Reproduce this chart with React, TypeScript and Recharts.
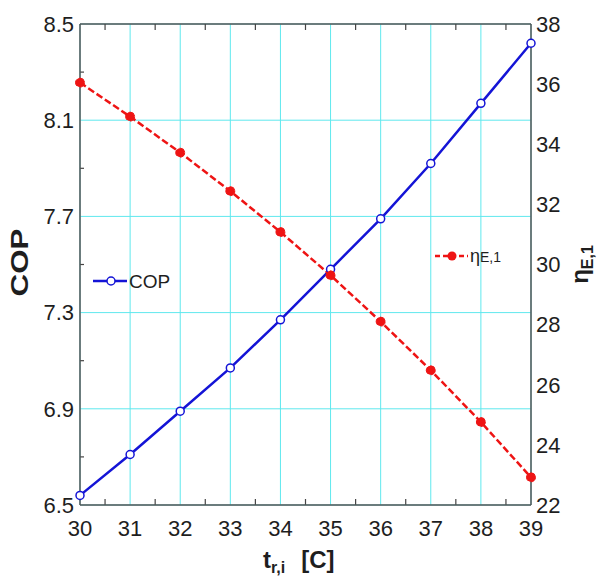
import {
  CartesianGrid,
  Legend,
  Line,
  LineChart,
  ReferenceLine,
  XAxis,
  YAxis,
} from "recharts";

const tri = [30, 31, 32, 33, 34, 35, 36, 37, 38, 39];
const cop = [6.54, 6.71, 6.89, 7.07, 7.27, 7.48, 7.69, 7.92, 8.17, 8.42];
const etaE1 = [36.05, 34.92, 33.72, 32.44, 31.08, 29.64, 28.1, 26.48, 24.76, 22.92];

const xTicks = [30, 31, 32, 33, 34, 35, 36, 37, 38, 39];
const xMinorTicks = [30.5, 31.5, 32.5, 33.5, 34.5, 35.5, 36.5, 37.5, 38.5];
const copTicks = [6.5, 6.9, 7.3, 7.7, 8.1, 8.5];
const copMinorTicks = [6.7, 7.1, 7.5, 7.9, 8.3];
const etaTicks = [22, 24, 26, 28, 30, 32, 34, 36, 38];

const data = tri.map((t, i) => ({ t, cop: cop[i], eta: etaE1[i] }));

const FONT = "'Liberation Sans', Arial, sans-serif";
const BLUE = "#1414d6";
const RED = "#ee1414";
const GRID = "#5fe8ee";
const AXIS = "#555";
const INK = "#1e1e1e";

const tickStyle = { fontSize: 22, fill: INK, fontFamily: FONT };

// inward minor tick length, in data units
const X_MIN = 30;
const COP_MIN = 6.5;
const COP_MAX = 8.5;
const tickLenCop = 0.025;
const tickLenX = 0.08;

function CopTitle(props: any) {
  const vb = props.viewBox;
  const cx = vb.x + 28;
  const cy = vb.y + vb.height / 2 - 2;
  return (
    <text
      x={cx}
      y={cy}
      transform={`rotate(-90 ${cx} ${cy})`}
      textAnchor="middle"
      fontFamily={FONT}
      fontWeight="bold"
      fontSize={24}
      fill={INK}
      textLength={68}
      lengthAdjust="spacingAndGlyphs"
    >
      COP
    </text>
  );
}

function EtaTitle(props: any) {
  const vb = props.viewBox;
  const cx = vb.x + 57;
  const cy = vb.y + vb.height / 2;
  return (
    <text
      x={cx}
      y={cy}
      transform={`rotate(-90 ${cx} ${cy})`}
      textAnchor="middle"
      fontFamily={FONT}
      fontWeight="bold"
      fill={INK}
    >
      <tspan fontSize={24}>η</tspan>
      <tspan fontSize={16} dy={5}>E,1</tspan>
    </text>
  );
}

function TriTitle(props: any) {
  const vb = props.viewBox;
  const x = vb.x + 183;
  const y = vb.y + 63;
  return (
    <text x={x} y={y} fontFamily={FONT} fontWeight="bold" fill={INK}>
      <tspan fontSize={24}>t</tspan>
      <tspan fontSize={16} dy={5}>r,i</tspan>
      <tspan fontSize={24} dy={-5} dx={16}>[C]</tspan>
    </text>
  );
}

function SeriesKey() {
  return (
    <svg
      width={600}
      height={576}
      style={{ position: "absolute", left: 0, top: 0, overflow: "visible" }}
    >
      <line x1={93} y1={281} x2={127} y2={281} stroke={BLUE} strokeWidth={2.5} />
      <circle cx={111} cy={281} r={4} fill="#fff" stroke={BLUE} strokeWidth={1.5} />
      <text x={129} y={288} fontFamily={FONT} fontSize={19} fill={INK}>
        COP
      </text>

      <line
        x1={435}
        y1={256}
        x2={468}
        y2={256}
        stroke={RED}
        strokeWidth={2.5}
        strokeDasharray="5 3"
      />
      <circle cx={452} cy={256} r={4.5} fill={RED} />
      <text x={470} y={262} fontFamily={FONT} fill={INK}>
        <tspan fontSize={18}>η</tspan>
        <tspan fontSize={14}>E,1</tspan>
      </text>
    </svg>
  );
}

export default function App() {
  return (
    <div
      style={{
        position: "absolute",
        left: 0,
        top: 0,
        width: 600,
        height: 576,
        background: "#fff",
      }}
    >
      <LineChart
        width={600}
        height={576}
        data={data}
        margin={{ top: 24, right: 0, bottom: 0, left: 0 }}
        style={{ fontFamily: FONT }}
      >
        <CartesianGrid stroke={GRID} strokeWidth={1} yAxisId="cop" />

        <XAxis
          dataKey="t"
          type="number"
          domain={[30, 39]}
          ticks={xTicks}
          interval={0}
          height={71}
          tickSize={0}
          tickMargin={15}
          axisLine={{ stroke: AXIS, strokeWidth: 1.5 }}
          tick={tickStyle}
          label={{ content: TriTitle }}
        />

        <YAxis
          yAxisId="cop"
          domain={[COP_MIN, COP_MAX]}
          ticks={copTicks}
          interval={0}
          width={80}
          tickSize={0}
          tickMargin={6}
          tickFormatter={(v) => Number(v).toFixed(1)}
          axisLine={{ stroke: AXIS, strokeWidth: 1.5 }}
          tick={tickStyle}
          label={{ content: CopTitle }}
        />
        <YAxis
          yAxisId="eta"
          orientation="right"
          domain={[22, 38]}
          ticks={etaTicks}
          interval={0}
          width={69}
          tickSize={0}
          tickMargin={5}
          axisLine={{ stroke: AXIS, strokeWidth: 1.5 }}
          tick={tickStyle}
          label={{ content: EtaTitle }}
        />

        {/* top frame line */}
        <ReferenceLine yAxisId="cop" y={COP_MAX} stroke={AXIS} strokeWidth={1.5} />

        {xMinorTicks.map((v) => (
          <ReferenceLine
            key={`b${v}`}
            yAxisId="cop"
            segment={[
              { x: v, y: COP_MIN },
              { x: v, y: COP_MIN + tickLenCop },
            ]}
            stroke="#444"
            strokeWidth={1.2}
          />
        ))}
        {xMinorTicks.map((v) => (
          <ReferenceLine
            key={`t${v}`}
            yAxisId="cop"
            segment={[
              { x: v, y: COP_MAX },
              { x: v, y: COP_MAX - tickLenCop },
            ]}
            stroke="#444"
            strokeWidth={1.2}
          />
        ))}
        {copMinorTicks.map((v) => (
          <ReferenceLine
            key={`l${v}`}
            yAxisId="cop"
            segment={[
              { x: X_MIN, y: v },
              { x: X_MIN + tickLenX, y: v },
            ]}
            stroke="#444"
            strokeWidth={1.2}
          />
        ))}

        <Legend
          layout="horizontal"
          verticalAlign="middle"
          wrapperStyle={{ left: 0, top: 0, width: 600, height: 576 }}
          content={SeriesKey}
        />

        <Line
          yAxisId="cop"
          dataKey="cop"
          name="COP"
          stroke={BLUE}
          strokeWidth={2.5}
          dot={{ r: 4, fill: "#fff", stroke: BLUE, strokeWidth: 1.5 }}
          isAnimationActive={false}
        />
        <Line
          yAxisId="eta"
          dataKey="eta"
          name="ηE,1"
          stroke={RED}
          strokeWidth={2.5}
          strokeDasharray="7 3"
          dot={{ r: 4.5, fill: RED, stroke: RED, strokeWidth: 1 }}
          isAnimationActive={false}
        />
      </LineChart>
    </div>
  );
}
